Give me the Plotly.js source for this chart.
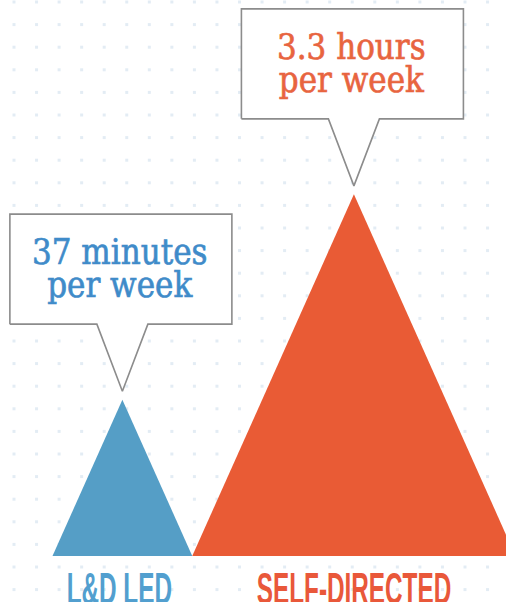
<!DOCTYPE html>
<html>
<head>
<meta charset="utf-8">
<script src="https://cdn.plot.ly/plotly-3.0.1.min.js"></script>
<style>
  html, body { margin: 0; padding: 0; background: #ffffff; }
  #chart { width: 506px; height: 602px; }
</style>
</head>
<body>
<div id="chart"></div>
<script>
// ---- data ----
const categories = ["L&D LED", "SELF-DIRECTED"];
const minutesPerWeek = [37, 198];
const calloutLine1 = ["37 minutes", "3.3 hours"];
const calloutLine2 = ["per week", "per week"];
const fillColors = ["#559ec6", "#e95b35"];
const textColors = ["#3f8bc9", "#e8643f"];
const labelColors = ["#529fcf", "#e9583a"];

// ---- layout constants ----
const W = 506, H = 602;
const PX = 25.7;            // pixels per axis unit (sqrt-minute)
const baseY = 556;          // baseline pixel row
const u = p => p / PX;      // pixels -> axis units
const yMin = -(H - baseY) / PX, yMax = baseY / PX;
const xMax = W / PX;
const aspect = 0.447;       // half-width / height of each triangle
const startX = u(52.5);
const SERIF_SIZE = 34.5;
const LINE_GAP = 32.5;      // px between callout baselines

const traces = [];

// dot grid background
const dx = [], dy = [];
for (let px = 14; px < W; px += 22.55) {
  for (let py = 2; py < H; py += 22.6) {
    dx.push(u(px));
    dy.push((baseY - py) / PX);
  }
}
traces.push({
  type: "scatter", mode: "markers", x: dx, y: dy, hoverinfo: "skip",
  marker: { symbol: "square", size: 3, color: "#e3ecf4", line: { width: 0 } }
});

const annotations = [];
let left = startX;
categories.forEach((cat, i) => {
  const h = Math.sqrt(minutesPerWeek[i]);
  const half = aspect * h;
  const cx = left + half;
  // triangle
  traces.push({
    type: "scatter", mode: "lines", fill: "toself", hoverinfo: "skip",
    x: [left, cx, left + 2 * half, left],
    y: [0, h, 0, 0],
    fillcolor: fillColors[i], line: { width: 0, color: fillColors[i] }
  });
  // callout
  const tipY = h + u(8.5);
  const bb = tipY + u(67);
  const bt = bb + u(110);
  const bx = cx - u(1.5);
  const hw = u(111);
  const pb = u(25.5);
  traces.push({
    type: "scatter", mode: "lines", fill: "toself", hoverinfo: "skip",
    x: [bx - hw, bx - hw, bx + hw, bx + hw, cx + pb, cx, cx - pb, bx - hw],
    y: [bb, bt, bt, bb, bb, tipY, bb, bb],
    fillcolor: "#ffffff", line: { width: 1.6, color: "#8c8c8c" }
  });
  annotations.push({
    x: bx - u(1), y: bt - u(54.75), xref: "x", yref: "y",
    text: calloutLine1[i] + "<br>" + calloutLine2[i],
    showarrow: false, xanchor: "center", yanchor: "middle", align: "center",
    font: { family: "DejaVu Serif Condensed, DejaVu Serif, serif", size: SERIF_SIZE, color: textColors[i] }
  });
  // category label
  annotations.push({
    x: cx - u(i === 0 ? 3 : 0), y: -u(4.5), xref: "x", yref: "y", text: cat,
    showarrow: false, xanchor: "center", yanchor: "top",
    font: { family: "Liberation Sans, Arial, sans-serif", size: 32, color: labelColors[i], weight: "bold" }
  });
  left += 2 * half;
});

const layout = {
  width: W, height: H,
  margin: { l: 0, r: 0, t: 0, b: 0, pad: 0 },
  paper_bgcolor: "#ffffff", plot_bgcolor: "#ffffff",
  showlegend: false,
  xaxis: { range: [0, xMax], visible: false, fixedrange: true },
  yaxis: { range: [yMin, yMax], visible: false, fixedrange: true },
  annotations: annotations
};

Plotly.newPlot("chart", traces, layout, { displayModeBar: false, staticPlot: true }).then(() => {
  document.querySelectorAll("#chart .annotation-text").forEach(t => {
    const txt = t.textContent;
    if (categories.includes(txt)) {
      // condensed display lettering
      t.style.transformBox = "fill-box";
      t.style.transformOrigin = "center top";
      t.style.transform = "scale(0.76, 1.4)";
    } else {
      // tighter leading, as in the reference callouts
      const lines = t.querySelectorAll("tspan.line");
      if (lines.length > 1) {
        const y0 = lines[0].getBoundingClientRect().top;
        const y1 = lines[1].getBoundingClientRect().top;
        const gap = y1 - y0;
        const factor = LINE_GAP / gap;
        lines.forEach(l => {
          const d = l.getAttribute("dy");
          if (d) l.setAttribute("dy", (parseFloat(d) * factor) + "em");
        });
        t.style.transform = "translate(0px," + ((gap - LINE_GAP) / 2) + "px)";
      }
      // slightly heavier serif strokes
      t.style.paintOrder = "stroke";
      t.style.stroke = t.style.fill;
      t.style.strokeWidth = "0.6px";
    }
  });
});
</script>
</body>
</html>
